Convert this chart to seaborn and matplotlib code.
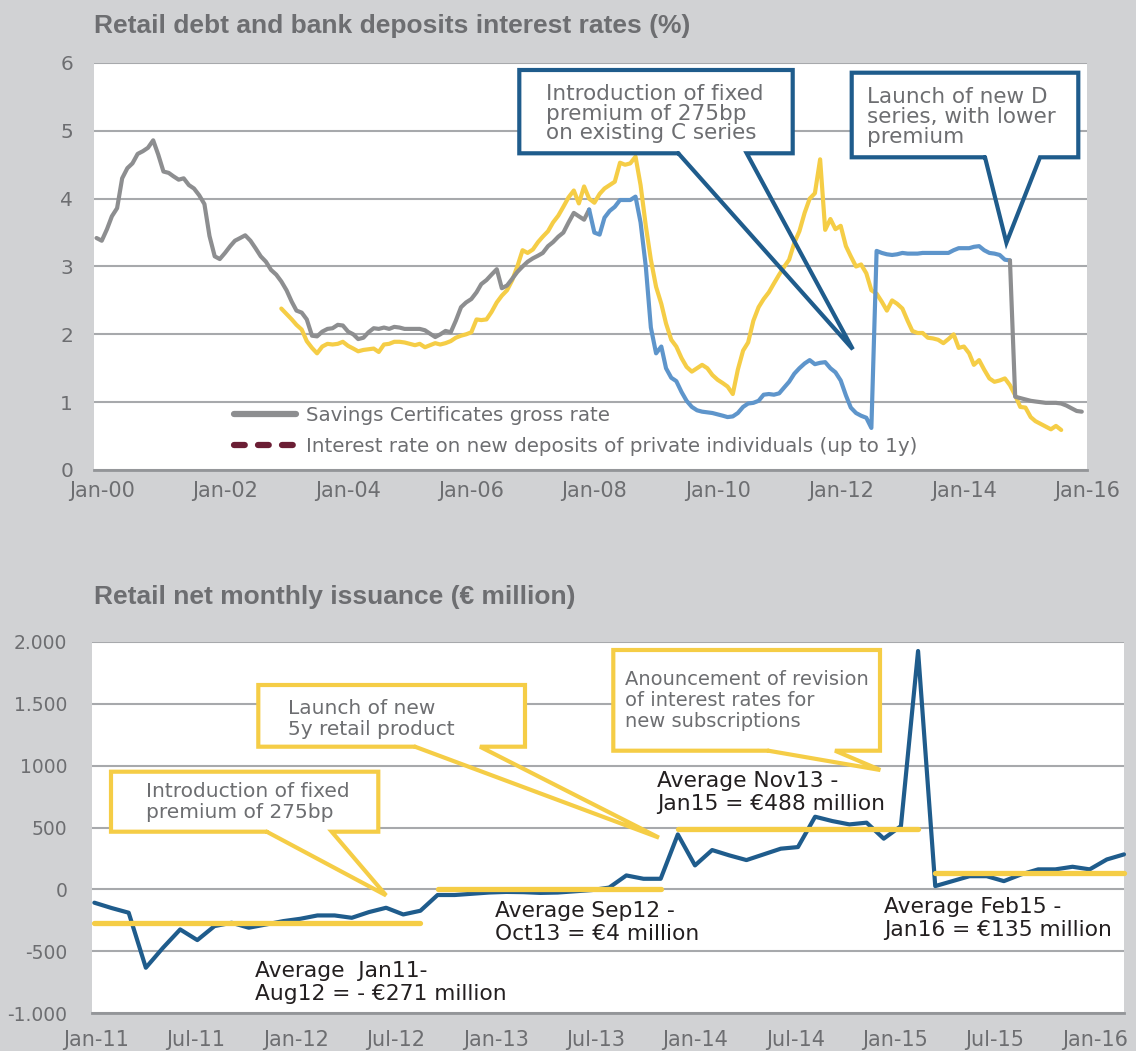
import numpy as np
import pandas as pd
import matplotlib
matplotlib.use("Agg")
import matplotlib.pyplot as plt
import matplotlib.dates as mdates
from matplotlib.lines import Line2D
from matplotlib.patches import Rectangle
import seaborn as sns

# ---------------------------------------------------------------- data
# Monthly interest rates (%), first value is December 1999
rate_start = "1999-12-01"
savings_early = [
    3.42, 3.38, 3.55, 3.74, 3.86, 4.30, 4.45, 4.52, 4.66, 4.70,
    4.75, 4.86, 4.65, 4.40, 4.38, 4.33, 4.28, 4.30, 4.20, 4.15,
    4.05, 3.92, 3.45, 3.15, 3.11, 3.20, 3.30, 3.38, 3.42, 3.46,
    3.38, 3.27, 3.15, 3.07, 2.95, 2.88, 2.78, 2.65, 2.48, 2.35,
    2.32, 2.22, 1.98, 1.97, 2.04, 2.08, 2.09, 2.14, 2.13, 2.04,
    2.00, 1.93, 1.95, 2.03, 2.09, 2.08, 2.10, 2.08, 2.11, 2.10,
    2.08, 2.08, 2.08, 2.08, 2.06, 2.01, 1.96, 2.00, 2.05, 2.03,
    2.20, 2.40, 2.47, 2.52, 2.62, 2.74, 2.80, 2.88, 2.96, 2.68,
    2.72, 2.82, 2.92, 3.00, 3.07, 3.12, 3.16, 3.20, 3.30, 3.36,
    3.44, 3.50, 3.65, 3.79, 3.74, 3.69, 3.84,
]
# C series period (Dec-07 .. Oct-14)
savings_c_series = [
    3.84, 3.50, 3.47, 3.72,
    3.82, 3.88, 3.98, 3.98, 3.98, 4.03, 3.65, 3.00, 2.10, 1.72,
    1.82, 1.50, 1.36, 1.31, 1.15, 1.02, 0.93, 0.88, 0.86, 0.85,
    0.84, 0.82, 0.80, 0.78, 0.79, 0.84, 0.93, 0.98, 0.99, 1.02,
    1.11, 1.12, 1.11, 1.13, 1.22, 1.30, 1.42, 1.50, 1.57, 1.62,
    1.56, 1.58, 1.59, 1.50, 1.44, 1.32, 1.10, 0.92, 0.84, 0.80,
    0.77, 0.62, 3.23, 3.20, 3.18, 3.17, 3.18, 3.20, 3.19, 3.19,
    3.19, 3.20, 3.20, 3.20, 3.20, 3.20, 3.20, 3.24, 3.27, 3.27,
    3.27, 3.29, 3.30, 3.24, 3.20, 3.19, 3.17, 3.10, 3.09,
]
savings_late = [3.09, 1.08, 1.06, 1.04, 1.02, 1.01, 1.00, 0.99, 0.99, 0.99,
                0.98, 0.95, 0.91, 0.87, 0.86]
c_series_offset = 96
late_offset = 178

deposit_start = "2002-12-01"
deposit_rate = [
    2.38, 2.30, 2.22, 2.14,
    2.07, 1.90, 1.80, 1.72, 1.82, 1.86, 1.85, 1.86, 1.89, 1.83,
    1.79, 1.75, 1.77, 1.78, 1.79, 1.74, 1.85, 1.86, 1.89, 1.89,
    1.88, 1.86, 1.84, 1.86, 1.81, 1.84, 1.87, 1.85, 1.87, 1.90,
    1.95, 1.98, 2.00, 2.03, 2.22, 2.21, 2.22, 2.33, 2.47, 2.57,
    2.65, 2.80, 3.00, 3.24, 3.20, 3.25, 3.36, 3.44, 3.52, 3.65,
    3.75, 3.88, 4.02, 4.12, 3.93, 4.18, 4.00, 3.94, 4.07, 4.15,
    4.20, 4.25, 4.53, 4.50, 4.52, 4.62, 4.20, 3.60, 3.10, 2.70,
    2.45, 2.16, 1.92, 1.82, 1.65, 1.52, 1.45, 1.50, 1.55, 1.50,
    1.40, 1.33, 1.28, 1.23, 1.12, 1.48, 1.76, 1.88, 2.20, 2.40,
    2.52, 2.62, 2.75, 2.88, 3.00, 3.10, 3.35, 3.52, 3.79, 4.00,
    4.08, 4.58, 3.54, 3.70, 3.55, 3.60, 3.30, 3.15, 3.00, 3.03,
    2.90, 2.65, 2.60, 2.48, 2.35, 2.50, 2.45, 2.38, 2.20, 2.05,
    2.02, 2.02, 1.95, 1.94, 1.92, 1.87, 1.93, 2.00, 1.80, 1.82,
    1.72, 1.55, 1.62, 1.48, 1.35, 1.30, 1.32, 1.35, 1.25, 1.10,
    0.93, 0.92, 0.78, 0.72, 0.68, 0.64, 0.60, 0.65, 0.59,
]
rate_legend = ["Savings Certificates gross rate",
               "Interest rate on new deposits of private individuals (up to 1y)"]
rate_notes = ["Introduction of fixed\npremium of 275bp\non existing C series",
              "Launch of new D\nseries, with lower\npremium"]

# Retail net monthly issuance (EUR million), Jan-11 .. Jan-16
net_issuance = [
    -107, -150, -188, -632, -471, -323, -409, -296, -269, -309,
    -283, -256, -237, -210, -210, -229, -183, -148, -202, -172,
    -45, -45, -35, -25, -20, -22, -28, -25, -15, -5,
    15, 113, 86, 86, 444, 194, 318, 275, 237, 283,
    329, 342, 587, 552, 525, 539, 410, 511, 1925, 27,
    67, 107, 107, 67, 121, 162, 162, 183, 162, 242,
    283,
]
avg_start = [0, 20, 34, 49]
avg_end = [19, 33, 48, 60]
avg_values = [-271, 4, 488, 135]
avg_labels = ["Average  Jan11-\nAug12 = - \u20ac271 million",
              "Average Sep12 -\nOct13 = \u20ac4 million",
              "Average Nov13 -\nJan15 = \u20ac488 million",
              "Average Feb15 -\nJan16 = \u20ac135 million"]
issuance_xlabels = ["Jan-11", "Jul-11", "Jan-12", "Jul-12", "Jan-13", "Jul-13",
                    "Jan-14", "Jul-14", "Jan-15", "Jul-15", "Jan-16"]
issuance_yticks = [-1000, -500, 0, 500, 1000, 1500, 2000]
issuance_ylabels = ["-1.000", "-500", "0", "500", "1000", "1.500", "2.000"]
issuance_notes = ["Introduction of fixed\npremium of 275bp",
                  "Launch of new\n5y retail product",
                  "Anouncement of revision\nof interest rates for\nnew subscriptions"]

# ---------------------------------------------------------------- style
sns.set_theme(style="white")
plt.rcParams["font.family"] = ["DejaVu Sans"]

BG = "#d1d2d4"
TXT = "#6d6e71"
GRID = "#a7a9ac"
GREY_LINE = "#8d8e90"
LIGHT_BLUE = "#5e95cb"
YELLOW = "#f5cd46"
DARK_BLUE = "#1f5c8c"
MAROON = "#6b1e34"

W, H = 1136, 1051
fig = plt.figure(figsize=(W / 100, H / 100), dpi=100, facecolor=BG)


def fx(px):
    return px / W


def fy(py):
    return 1 - py / H


def style_axes(ax):
    ax.set_facecolor("white")
    for side in ("left", "right", "top"):
        ax.spines[side].set_visible(False)
    ax.spines["bottom"].set_color("#939598")
    ax.spines["bottom"].set_linewidth(2)
    ax.yaxis.grid(True, color=GRID, lw=1.5)
    ax.xaxis.grid(False)
    ax.set_axisbelow(True)
    ax.set_xlabel("")
    ax.set_ylabel("")


# ---------------------------------------------------------------- top chart
ax1 = fig.add_axes([fx(94), fy(470), fx(1087) - fx(94), fy(63) - fy(470)])

all_dates = pd.date_range(rate_start, periods=193, freq="MS")
early_df = pd.DataFrame({"date": all_dates[:len(savings_early)], "rate": savings_early})
c_df = pd.DataFrame({"date": all_dates[c_series_offset:c_series_offset + len(savings_c_series)],
                     "rate": savings_c_series})
late_df = pd.DataFrame({"date": all_dates[late_offset:late_offset + len(savings_late)],
                        "rate": savings_late})
dep_df = pd.DataFrame({"date": pd.date_range(deposit_start, periods=len(deposit_rate), freq="MS"),
                       "rate": deposit_rate})

sns.lineplot(data=dep_df, x="date", y="rate", color=YELLOW, lw=3, ax=ax1, zorder=3)
sns.lineplot(data=early_df, x="date", y="rate", color=GREY_LINE, lw=3, ax=ax1, zorder=4)
sns.lineplot(data=c_df, x="date", y="rate", color=LIGHT_BLUE, lw=3, ax=ax1, zorder=4)
sns.lineplot(data=late_df, x="date", y="rate", color=GREY_LINE, lw=3, ax=ax1, zorder=4)

style_axes(ax1)
ax1.set_ylim(0, 6)
ax1.set_yticks(range(0, 7))
ax1.set_xlim(pd.Timestamp("1999-11-16"), pd.Timestamp("2016-01-01"))
ax1.set_xticks(pd.date_range("2000-01-01", "2016-01-01", freq="2YS"))
ax1.xaxis.set_major_formatter(mdates.DateFormatter("%b-%y"))
ax1.tick_params(axis="both", length=0, labelcolor=TXT)
ax1.tick_params(axis="y", pad=15, labelsize=14.5)
ax1.tick_params(axis="x", pad=8, labelsize=15)

handles = [Line2D([], [], color=GREY_LINE, lw=4.5, solid_capstyle="round"),
           Line2D([], [], color=MAROON, lw=4.5, ls=(0, (1.72, 2.12)),
                  dash_capstyle="round")]
leg = ax1.legend(handles, rate_legend, loc="upper left", bbox_to_anchor=(0.141, 0.157),
                 frameon=False, fontsize=14.3, handlelength=3.1, handletextpad=0.5,
                 labelspacing=0.62, borderpad=0, borderaxespad=0)
for t in leg.get_texts():
    t.set_color(TXT)

fig.text(fx(94), fy(33), "Retail debt and bank deposits interest rates (%)",
         fontfamily="Liberation Sans", fontweight="bold", fontsize=19, color=TXT,
         va="baseline", ha="left")

# ---------------------------------------------------------------- bottom chart
ax2 = fig.add_axes([fx(92.3), fy(1013.3), fx(1124) - fx(92.3), fy(641.7) - fy(1013.3)])
months = np.arange(len(net_issuance))
sns.lineplot(x=months, y=net_issuance, color=DARK_BLUE, lw=3, ax=ax2, zorder=3)
ax2.lines[-1].set_clip_on(False)
for s, e, v in zip(avg_start, avg_end, avg_values):
    ax2.plot([s, e], [v, v], color=YELLOW, lw=3.8, solid_capstyle="round", zorder=4,
             clip_on=False)

style_axes(ax2)
ax2.set_ylim(-1000, 2000)
ax2.set_yticks(issuance_yticks)
ax2.set_yticklabels(issuance_ylabels)
ax2.set_xlim(-0.12, 60.0)
ax2.set_xticks(np.linspace(0.1, 58.3, len(issuance_xlabels)))
ax2.set_xticklabels(issuance_xlabels)
ax2.tick_params(axis="both", length=0, labelcolor=TXT)
ax2.tick_params(axis="y", pad=18, labelsize=13.5)
ax2.tick_params(axis="x", pad=12, labelsize=15)

fig.text(fx(94), fy(604), "Retail net monthly issuance (\u20ac million)",
         fontfamily="Liberation Sans", fontweight="bold", fontsize=19, color=TXT,
         va="baseline", ha="left")

# average labels (black), positioned below/above their reference lines
avg_text_pos = [(255, 977), (495, 917), (657, 787), (884, 913)]
for label, (px, py) in zip(avg_labels, avg_text_pos):
    for i, line in enumerate(label.split("\n")):
        fig.text(fx(px), fy(py + 22.5 * i), line, fontsize=15.7, color="#231f20",
                 va="baseline", ha="left")


# ---------------------------------------------------------------- callouts
def callout(ax, box, base, tip, color, text, text_pos, step, size):
    x0, y0, x1, y1 = box
    bl, br = base
    tx, ty = fig.transFigure.inverted().transform(ax.transData.transform(tip))
    fig.add_artist(Rectangle((fx(x0), fy(y1)), fx(x1) - fx(x0), fy(y0) - fy(y1),
                             transform=fig.transFigure, facecolor="white",
                             edgecolor="none", zorder=5))
    xs = [fx(bl), fx(x0), fx(x0), fx(x1), fx(x1), fx(br), tx, fx(bl)]
    ys = [fy(y1), fy(y1), fy(y0), fy(y0), fy(y1), fy(y1), ty, fy(y1)]
    fig.add_artist(Line2D(xs, ys, transform=fig.transFigure, color=color, lw=3,
                          solid_joinstyle="miter", zorder=6))
    tx0, ty0 = text_pos
    for i, line in enumerate(text.split("\n")):
        fig.text(fx(tx0), fy(ty0 + step * i), line, fontsize=size, color=TXT,
                 va="baseline", ha="left", zorder=7)


tip1 = (mdates.date2num(pd.Timestamp("2012-03-13")), 1.78)
tip2 = (mdates.date2num(pd.Timestamp("2014-09-10")), 3.35)
callout(ax1, (519.3, 70, 792.7, 153.3), (678.3, 746.7), tip1, DARK_BLUE,
        rate_notes[0], (546, 100), 19.5, 15.5)
callout(ax1, (851.7, 72.7, 1078.3, 157.3), (985, 1040), tip2, DARK_BLUE,
        rate_notes[1], (867, 103), 20, 15.5)

callout(ax2, (111, 771.7, 378.3, 831.7), (266.7, 331.7), (17.0, -48), YELLOW,
        issuance_notes[0], (146, 797), 21, 14.5)
callout(ax2, (258.3, 685, 525, 746.7), (415, 480), (32.9, 418), YELLOW,
        issuance_notes[1], (288, 714), 21, 14.5)
callout(ax2, (613.3, 650, 880, 750.7), (768.3, 835), (45.8, 964), YELLOW,
        issuance_notes[2], (625, 685), 21, 14)

fig.savefig("out.png", dpi=100, facecolor=BG)
